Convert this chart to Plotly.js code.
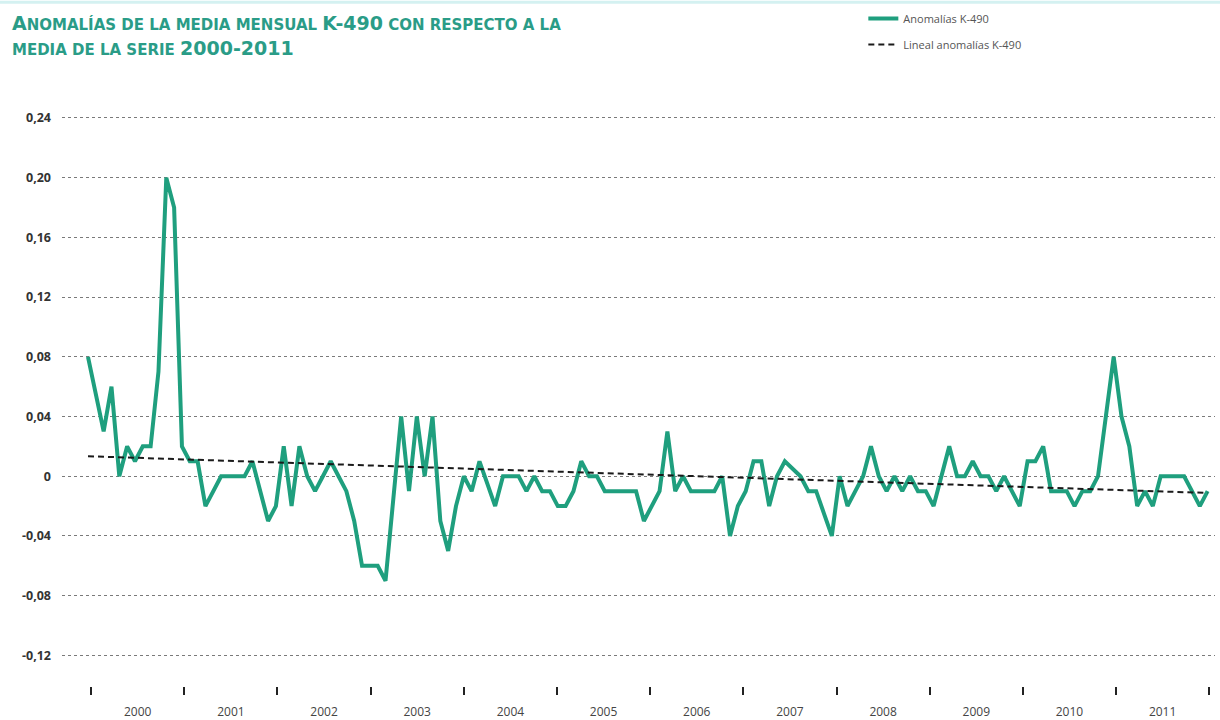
<!DOCTYPE html>
<html>
<head>
<meta charset="utf-8">
<script src="https://cdn.plot.ly/plotly-3.0.1.min.js"></script>
<style>html,body{margin:0;padding:0;background:#fff;}#chart{width:1220px;height:720px;}</style>
</head>
<body>
<div id="chart"></div>
<script>
// Years of the series (monthly data, Jan 2000 – Dec 2011)
const years = ['2000','2001','2002','2003','2004','2005','2006','2007','2008','2009','2010','2011'];

// Monthly anomalies K-490
const anomalies = [
  0.08, 0.055, 0.03, 0.06, 0.00, 0.02, 0.01, 0.02, 0.02, 0.07, 0.20, 0.18,        // 2000
  0.02, 0.01, 0.01, -0.02, -0.01, 0.00, 0.00, 0.00, 0.00, 0.01, -0.01, -0.03,     // 2001
  -0.02, 0.02, -0.02, 0.02, 0.00, -0.01, 0.00, 0.01, 0.00, -0.01, -0.03, -0.06,   // 2002
  -0.06, -0.06, -0.07, -0.015, 0.04, -0.01, 0.04, 0.00, 0.04, -0.03, -0.05, -0.02, // 2003
  0.00, -0.01, 0.01, -0.005, -0.02, 0.00, 0.00, 0.00, -0.01, 0.00, -0.01, -0.01,  // 2004
  -0.02, -0.02, -0.01, 0.01, 0.00, 0.00, -0.01, -0.01, -0.01, -0.01, -0.01, -0.03, // 2005
  -0.02, -0.01, 0.03, -0.01, 0.00, -0.01, -0.01, -0.01, -0.01, 0.00, -0.04, -0.02, // 2006
  -0.01, 0.01, 0.01, -0.02, 0.00, 0.01, 0.005, 0.00, -0.01, -0.01, -0.025, -0.04, // 2007
  0.00, -0.02, -0.01, 0.00, 0.02, 0.00, -0.01, 0.00, -0.01, 0.00, -0.01, -0.01,   // 2008
  -0.02, 0.00, 0.02, 0.00, 0.00, 0.01, 0.00, 0.00, -0.01, 0.00, -0.01, -0.02,     // 2009
  0.01, 0.01, 0.02, -0.01, -0.01, -0.01, -0.02, -0.01, -0.01, 0.00, 0.04, 0.08,   // 2010
  0.04, 0.02, -0.02, -0.01, -0.02, 0.00, 0.00, 0.00, 0.00, -0.01, -0.02, -0.01    // 2011
];

// Linear trend (start and end of the series)
const trendValues = [0.0134, -0.0112];

// Y tick labels
const yTickVals = [-0.12, -0.08, -0.04, 0, 0.04, 0.08, 0.12, 0.16, 0.20, 0.24];
const yTickText = ['-0,12', '-0,08', '-0,04', '0', '0,04', '0,08', '0,12', '0,16', '0,20', '0,24'];

const monthIdx = anomalies.map((_, i) => i);
const trendX = [0, anomalies.length - 1];
const yearMid = years.map((_, k) => 6.35 + 11.9 * k);

const green = '#1f9f7e';
const sc = s => '<span style="font-size:15px">' + s + '</span>';

const traces = [
  {
    x: monthIdx, y: anomalies, type: 'scatter', mode: 'lines',
    name: 'Anomalías K-490', legendgroup: 'a',
    line: {color: green, width: 4, shape: 'linear'},
    hoverinfo: 'skip'
  },
  {
    x: trendX, y: trendValues, type: 'scatter', mode: 'lines',
    name: 'Lineal anomalías K-490', legendgroup: 'b',
    line: {color: '#1a1a1a', width: 2, dash: '6px,4px'},
    hoverinfo: 'skip'
  }
];

const layout = {
  width: 1220, height: 720,
  margin: {l: 62, r: 5, t: 99, b: 34, pad: 0},
  paper_bgcolor: '#ffffff', plot_bgcolor: '#ffffff',
  font: {family: 'Open Sans, sans-serif', color: '#333'},
  title: {
    text: 'A' + sc('nomalías de la media mensual ') + 'K-490' + sc(' con respecto a la') + '<br>' + sc('media de la serie ') + '2000-2011',
    x: 12 / 1220, xref: 'container', xanchor: 'left',
    y: 1 - 30 / 720, yref: 'container', yanchor: 'top',
    font: {family: 'DejaVu Sans, sans-serif', size: 19, color: '#2a9c87', weight: 700, textcase: 'upper'}
  },
  showlegend: true,
  legend: {
    x: 0.695, xanchor: 'left', y: 1.162, yanchor: 'top',
    traceorder: 'grouped', tracegroupgap: 7,
    font: {family: 'Open Sans, sans-serif', size: 11, color: '#555'},
    bgcolor: 'rgba(0,0,0,0)', borderwidth: 0
  },
  xaxis: {
    range: [-3.32, 143.94],
    tickmode: 'array', tickvals: yearMid, ticktext: years,
    ticks: 'outside', ticklen: 8, tickcolor: 'rgba(0,0,0,0)',
    ticklabelstandoff: 7,
    tickfont: {family: 'Open Sans, sans-serif', size: 12, color: '#444'},
    showgrid: false, zeroline: false, showline: false, automargin: false,
    minor: {tickmode: 'linear', tick0: 0.4, dtick: 11.9, ticks: 'outside', ticklen: 8, tickwidth: 2, tickcolor: '#222', showgrid: false}
  },
  yaxis: {
    range: [-0.1405, 0.252],
    tickmode: 'array', tickvals: yTickVals, ticktext: yTickText,
    ticks: '', ticklabelstandoff: 10,
    tickfont: {family: 'Open Sans, sans-serif', size: 12.5, color: '#333', weight: 700},
    showgrid: true, gridcolor: '#7a7a7a', gridwidth: 1, griddash: 'dot',
    zeroline: false, showline: false, automargin: false
  },
  shapes: [
    {type: 'line', xref: 'paper', yref: 'paper', x0: -62 / 1153, x1: 1158 / 1153, y0: 1 + 98 / 587, y1: 1 + 98 / 587,
     line: {color: '#d4f1f1', width: 3}}
  ]
};

Plotly.newPlot('chart', traces, layout, {staticPlot: true, displayModeBar: false});
</script>
</body>
</html>
